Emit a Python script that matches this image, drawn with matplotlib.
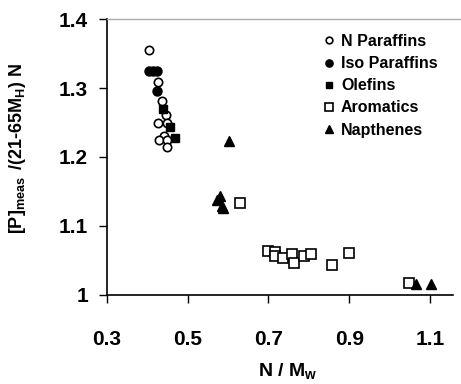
import numpy as np
import matplotlib
matplotlib.use('Agg')
import matplotlib.pyplot as plt
from matplotlib.lines import Line2D

plt.rcParams['font.family'] = 'Liberation Sans'
plt.rcParams['font.weight'] = 'bold'
plt.rcParams['mathtext.fontset'] = 'custom'
plt.rcParams['mathtext.rm'] = 'Liberation Sans:bold'
plt.rcParams['mathtext.it'] = 'Liberation Sans:bold'
plt.rcParams['mathtext.bf'] = 'Liberation Sans:bold'

# data
n_paraffins_x = [0.405, 0.426, 0.438, 0.446, 0.427, 0.450, 0.441, 0.430, 0.450, 0.449]
n_paraffins_y = [1.355, 1.309, 1.281, 1.261, 1.249, 1.250, 1.231, 1.225, 1.225, 1.215]

iso_paraffins_x = [0.405, 0.415, 0.4245, 0.4245]
iso_paraffins_y = [1.324, 1.324, 1.325, 1.296]

olefins_x = [0.440, 0.457, 0.469]
olefins_y = [1.270, 1.244, 1.227]

aromatics_x = [0.630, 0.698, 0.717, 0.717, 0.737, 0.758, 0.764, 0.789, 0.805,
               0.857, 0.900, 1.049]
aromatics_y = [1.133, 1.064, 1.063, 1.057, 1.054, 1.060, 1.047, 1.057, 1.060,
               1.044, 1.061, 1.018]

napthenes_x = [0.603, 0.580, 0.574, 0.585, 0.587, 1.066, 1.103]
napthenes_y = [1.223, 1.143, 1.138, 1.129, 1.126, 1.016, 1.016]

ticksize = 15
labelsize = 14
legendsize = 11.5

fig = plt.figure(figsize=(4.61, 3.84), dpi=100)
ax = fig.add_axes([0.2315, 0.2318, 0.7511, 0.7187])

ax.plot(n_paraffins_x, n_paraffins_y, 'o', mfc='white', mec='black', mew=1.2,
        ms=6, linestyle='none', label='N Paraffins')
ax.plot(iso_paraffins_x, iso_paraffins_y, 'o', color='black', ms=6.5,
        linestyle='none', label='Iso Paraffins')
ax.plot(olefins_x, olefins_y, 's', color='black', ms=6,
        linestyle='none', label='Olefins')
ax.plot(aromatics_x, aromatics_y, 's', mfc='white', mec='black', mew=1.2,
        ms=6.5, linestyle='none', label='Aromatics')
ax.plot(napthenes_x, napthenes_y, '^', color='black', ms=7,
        linestyle='none', label='Napthenes')

ax.set_xlim(0.3, 1.157)
ax.set_ylim(1.0, 1.4)
ax.set_xticks([0.3, 0.5, 0.7, 0.9, 1.1])
ax.set_xticklabels(['0.3', '0.5', '0.7', '0.9', '1.1'])
ax.set_yticks([1.0, 1.1, 1.2, 1.3, 1.4])
ax.set_yticklabels(['1', '1.1', '1.2', '1.3', '1.4'])
ax.tick_params(axis='both', direction='out', length=6, width=1,
               labelsize=ticksize)
ax.tick_params(axis='x', pad=19)
ax.tick_params(axis='y', pad=7.5)

ax.spines['top'].set_visible(False)
ax.spines['right'].set_visible(False)
ax.spines['left'].set_linewidth(1.2)
ax.spines['bottom'].set_linewidth(1.2)

# faint line along the top
fig.add_artist(Line2D([0.2315, 1.0], [0.9505, 0.9505], color='#a8a8a8',
                      lw=1, transform=fig.transFigure))

ax.set_xlabel(r'N / M$_{\rm w}$', fontsize=labelsize, fontweight='bold')
ax.xaxis.set_label_coords(0.524, -0.24)
ax.set_ylabel(r'[P]$_{\rm meas}\,$ /(21-65M$_{\rm H}$) N', fontsize=13,
              fontweight='bold')
ax.yaxis.set_label_coords(-0.227, 0.53)

ax.legend(loc='upper left', bbox_to_anchor=(0.628, 0.946), frameon=False,
          fontsize=legendsize, handlelength=0.6, handletextpad=0.45,
          labelspacing=0.45, markerscale=0.8, borderaxespad=0, borderpad=0)

fig.savefig('out.png', dpi=100)
